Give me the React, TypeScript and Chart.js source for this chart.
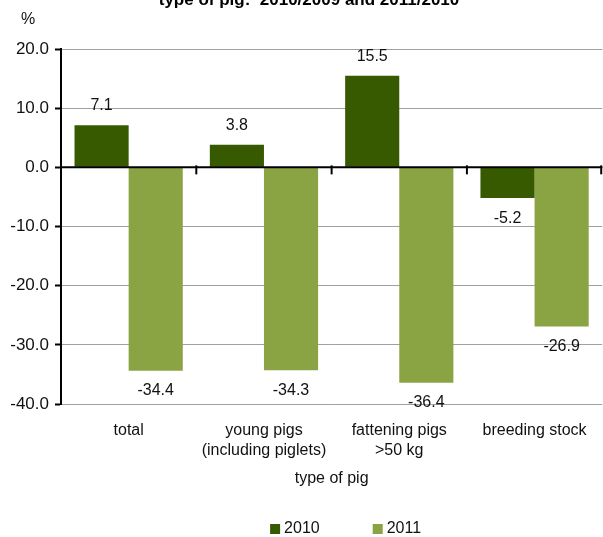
import React, { useEffect, useRef } from "react";
import { Chart, registerables } from "chart.js";

Chart.register(...registerables);

const categories: (string | string[])[] = [
  "total",
  ["young pigs", "(including piglets)"],
  ["fattening pigs", ">50 kg"],
  "breeding stock",
];
const series2010 = [7.1, 3.8, 15.5, -5.2];
const series2011 = [-34.4, -34.3, -36.4, -26.9];
const seriesNames = ["2010", "2011"];
const seriesColors = ["#375a00", "#8ba443"];
const yTicks = [-40, -30, -20, -10, 0, 10, 20];
const titleText = "type of pig:  2010/2009 and 2011/2010";
const axisTitle = "type of pig";
const unitLabel = "%";

const FONT = "'Liberation Sans', Arial, sans-serif";

const overlayPlugin = {
  id: "overlay",
  afterDatasetsDraw(chart: any) {
    const ctx = chart.ctx as CanvasRenderingContext2D;
    const { left, right } = chart.chartArea;
    const yScale = chart.scales.y;
    const xScale = chart.scales.x;
    const y0 = yScale.getPixelForValue(0);
    ctx.save();
    ctx.strokeStyle = "#000";
    ctx.lineWidth = 2;
    ctx.beginPath();
    ctx.moveTo(left, y0);
    ctx.lineTo(right, y0);
    ctx.stroke();
    const n = chart.data.labels.length;
    for (let i = 1; i <= n; i++) {
      let x = xScale.getPixelForValue(i - 0.5);
      if (x > right - 1) x = right - 1;
      ctx.beginPath();
      ctx.moveTo(x, y0 - 2);
      ctx.lineTo(x, y0 + 7);
      ctx.stroke();
    }
    ctx.fillStyle = "#111";
    ctx.font = `16px ${FONT}`;
    ctx.textAlign = "center";
    ctx.textBaseline = "alphabetic";
    chart.data.datasets.forEach((ds: any, d: number) => {
      const meta = chart.getDatasetMeta(d);
      meta.data.forEach((el: any, i: number) => {
        const v = ds.data[i];
        const txt = v.toFixed(1);
        const y = v >= 0 ? el.y - 15 : el.y + 24.5;
        ctx.fillText(txt, el.x, y);
      });
    });
    ctx.restore();
  },
  afterDraw(chart: any) {
    const ctx = chart.ctx as CanvasRenderingContext2D;
    const { left, right, top } = chart.chartArea;
    ctx.save();
    ctx.fillStyle = "#000";
    ctx.font = `bold 17px ${FONT}`;
    ctx.textAlign = "center";
    ctx.textBaseline = "alphabetic";
    ctx.fillText(titleText, 309, 5);
    ctx.fillStyle = "#111";
    ctx.font = `16px ${FONT}`;
    ctx.textBaseline = "middle";
    ctx.fillText(unitLabel, left - 33, top - 29);
    ctx.font = `16px ${FONT}`;
    ctx.textAlign = "left";
    const box = 10;
    const gapBoxText = 4;
    const gapItems = 53;
    const items = chart.data.datasets.map((ds: any) => ({
      label: ds.label,
      color: ds.backgroundColor,
      w: box + gapBoxText + ctx.measureText(ds.label).width,
    }));
    const total =
      items.reduce((s: number, it: any) => s + it.w, 0) + gapItems * (items.length - 1);
    const cx = (left + right) / 2 + 14;
    let x = cx - total / 2;
    const ly = chart.height - 8;
    items.forEach((it: any) => {
      ctx.fillStyle = it.color;
      ctx.fillRect(x, ly - 5, box, box);
      ctx.fillStyle = "#111";
      ctx.fillText(it.label, x + box + gapBoxText, ly);
      x += it.w + gapItems;
    });
    ctx.restore();
  },
};

export default function App() {
  const canvasRef = useRef<HTMLCanvasElement | null>(null);

  useEffect(() => {
    if (!canvasRef.current) return;
    const chart = new Chart(canvasRef.current, {
      type: "bar",
      data: {
        labels: categories as any,
        datasets: [
          {
            label: seriesNames[0],
            data: series2010,
            backgroundColor: seriesColors[0],
            categoryPercentage: 0.8,
            barPercentage: 1.0,
          },
          {
            label: seriesNames[1],
            data: series2011,
            backgroundColor: seriesColors[1],
            categoryPercentage: 0.8,
            barPercentage: 1.0,
          },
        ],
      },
      options: {
        responsive: false,
        animation: false,
        events: [],
        layout: { padding: { top: 49, bottom: 48.6, left: 0, right: 0 } },
        plugins: {
          legend: { display: false },
          title: { display: false },
          tooltip: { enabled: false },
        },
        scales: {
          x: {
            afterFit: (scale: any) => {
              scale.height = 84.4;
            },
            grid: { display: false, drawTicks: false },
            border: { display: false },
            ticks: {
              color: "#111",
              font: { family: FONT, size: 16, lineHeight: 1.25 },
              padding: 16.4,
              maxRotation: 0,
              autoSkip: false,
            },
            title: {
              display: true,
              text: axisTitle,
              color: "#111",
              font: { family: FONT, size: 16, lineHeight: 1.25 },
              padding: { top: 8, bottom: 0 },
            },
          },
          y: {
            min: -40,
            max: 20,
            afterBuildTicks: (scale: any) => {
              scale.ticks = yTicks.map((v) => ({ value: v }));
            },
            afterFit: (scale: any) => {
              scale.width = 61;
            },
            grid: {
              color: (c: any) => (c.tick && c.tick.value === 0 ? "#000" : "#a0a0a0"),
              lineWidth: 1,
              tickColor: "#000",
              tickLength: 6,
              tickWidth: 2,
            },
            border: { display: true, color: "#000", width: 2 },
            ticks: {
              color: "#111",
              font: { family: FONT, size: 17 },
              padding: 6,
              callback: (v: any) => Number(v).toFixed(1),
            },
          },
        },
      },
      plugins: [overlayPlugin],
    });
    return () => chart.destroy();
  }, []);

  return (
    <div style={{ position: "absolute", left: 0, top: 0, width: 603, height: 537 }}>
      <canvas ref={canvasRef} width={603} height={537} style={{ display: "block" }} />
    </div>
  );
}
